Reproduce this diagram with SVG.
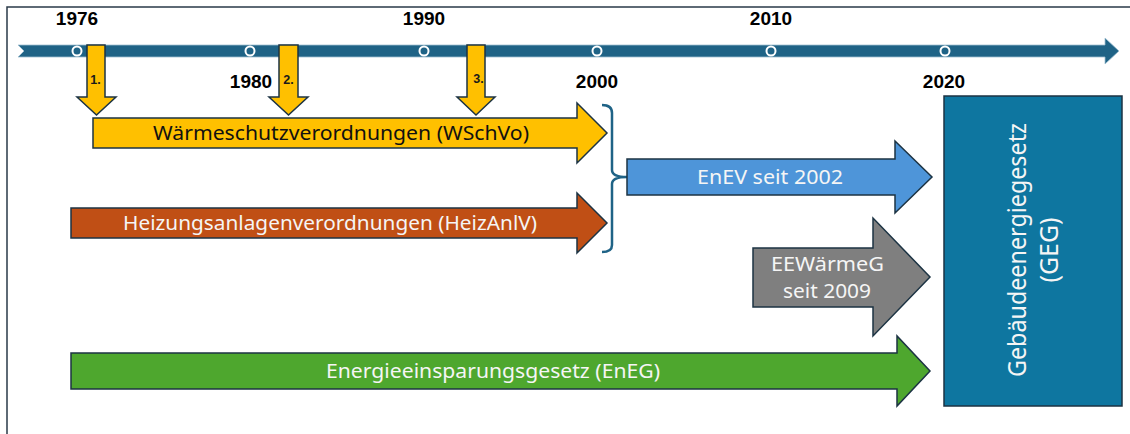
<svg xmlns="http://www.w3.org/2000/svg" width="1130" height="434" viewBox="0 0 1130 434">
<style>
.yr{font-family:"Liberation Sans",Arial,sans-serif;font-weight:bold;font-size:19px;fill:#000;text-anchor:middle}
.num{font-family:"Liberation Sans",Arial,sans-serif;font-weight:bold;font-size:12.5px;fill:#1a1a1a;text-anchor:middle}
.lbl{font-family:"Noto Sans","Open Sans",sans-serif;font-size:20px;fill:#f5f5f5;text-anchor:start}
.shape{stroke:#1c3343;stroke-width:1.5;stroke-linejoin:miter}
.dot{fill:none;stroke:#ffffff;stroke-width:2}
</style>
<rect x="0" y="0" width="1130" height="434" fill="#ffffff"/>
<rect x="7" y="7" width="1140" height="440" fill="none" stroke="#2a3a48" stroke-width="1.5"/>

<g id="timeline">
<polygon points="18,45 1105,45 1105,38 1119,51 1105,64 1105,57 18,57 24,51" fill="#1f6386" stroke="#9fbfd0" stroke-width="0.8"/>
<circle class="dot" cx="77" cy="51" r="4.5"/>
<circle class="dot" cx="250" cy="51" r="4.5"/>
<circle class="dot" cx="424" cy="51" r="4.5"/>
<circle class="dot" cx="597" cy="51" r="4.5"/>
<circle class="dot" cx="771" cy="51" r="4.5"/>
<circle class="dot" cx="945" cy="51" r="4.5"/>
<text class="yr" x="77" y="25">1976</text>
<text class="yr" x="251" y="88">1980</text>
<text class="yr" x="424" y="25">1990</text>
<text class="yr" x="597" y="88">2000</text>
<text class="yr" x="771" y="25">2010</text>
<text class="yr" x="944" y="88">2020</text>
</g>

<g id="marker1">
<polygon class="shape" points="87,45 105,45 105,97 116,97 96.5,115 77,97 87,97" fill="#ffc000"/>
<text class="num" x="95.5" y="84">1.</text>
</g>
<g id="marker2">
<polygon class="shape" points="279,45 298,45 298,97 308,97 288.5,115 269,97 279,97" fill="#ffc000"/>
<text class="num" x="288.5" y="84">2.</text>
</g>
<g id="marker3">
<polygon class="shape" points="467,45 485,45 485,97 495,97 476,115 457,97 467,97" fill="#ffc000"/>
<text class="num" x="478.5" y="83">3.</text>
</g>

<g id="wschvo">
<polygon class="shape" points="93,118 577,118 577,103 607,133 577,163 577,148 93,148" fill="#ffc000"/>
<text class="lbl" x="153" y="140" textLength="376" lengthAdjust="spacingAndGlyphs" style="fill:#111">Wärmeschutzverordnungen (WSchVo)</text>
</g>

<g id="heizanlv">
<polygon class="shape" points="71,208 577,208 577,193 607,223 577,253 577,238 71,238" fill="#c04f15"/>
<text class="lbl" x="123" y="230" textLength="414" lengthAdjust="spacingAndGlyphs">Heizungsanlagenverordnungen (HeizAnlV)</text>
</g>

<g id="connectors">
<path d="M602,105 Q612,105 612,113 L612,170 Q612,177 627,177 Q612,177 612,184 L612,245 Q612,252 602,252" fill="none" stroke="#1f6386" stroke-width="2.5"/>
</g>

<g id="enev">
<polygon class="shape" points="627,159 895,159 895,141 932,177 895,213 895,195 627,195" fill="#4e95d9"/>
<text class="lbl" x="697" y="184" textLength="146" lengthAdjust="spacingAndGlyphs">EnEV seit 2002</text>
</g>

<g id="eewaermeg">
<polygon class="shape" points="753,248 873,248 873,218 930,277 873,336 873,307 753,307" fill="#7f7f7f"/>
<text class="lbl" x="771" y="271" textLength="113" lengthAdjust="spacingAndGlyphs">EEWärmeG</text>
<text class="lbl" x="783" y="298" textLength="88" lengthAdjust="spacingAndGlyphs">seit 2009</text>
</g>

<g id="eneg">
<polygon class="shape" points="71,353 897,353 897,336 930,371 897,406 897,389 71,389" fill="#4ea72e"/>
<text class="lbl" x="326" y="378" textLength="334" lengthAdjust="spacingAndGlyphs">Energieeinsparungsgesetz (EnEG)</text>
</g>

<g id="geg">
<rect class="shape" x="944" y="96" width="178" height="310" fill="#0e76a0"/>
<text class="lbl" transform="translate(1026,250) rotate(-90)" x="-127" y="0" style="font-size:25px" textLength="254" lengthAdjust="spacingAndGlyphs">Gebäudeenergiegesetz</text>
<text class="lbl" transform="translate(1058,250) rotate(-90)" x="-32.5" y="0" style="font-size:25px" textLength="65" lengthAdjust="spacingAndGlyphs">(GEG)</text>
</g>
</svg>
